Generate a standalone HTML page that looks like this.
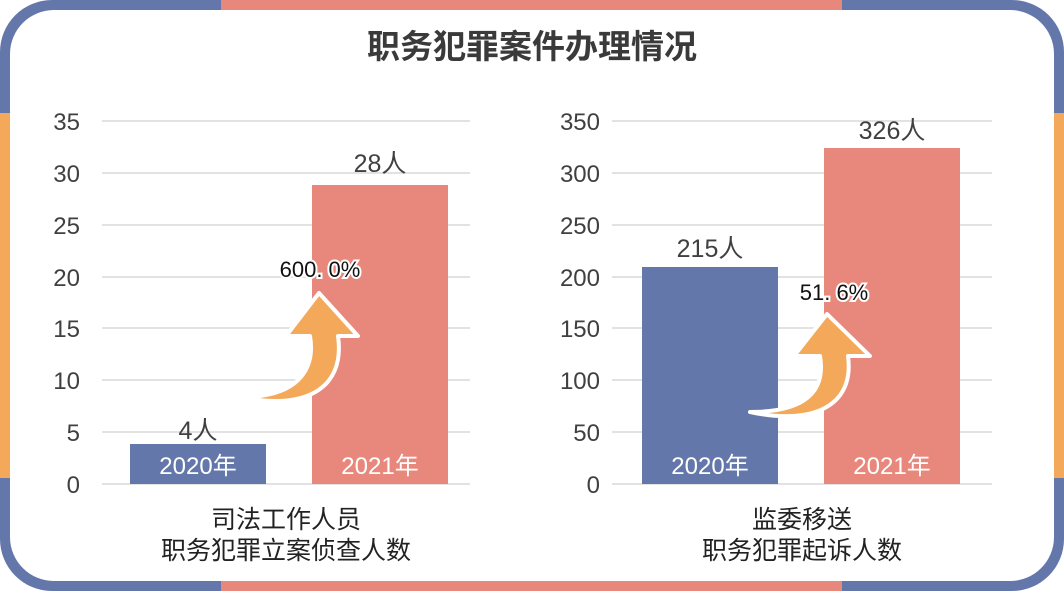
<!DOCTYPE html>
<html><head><meta charset="utf-8"><style>
body{margin:0;width:1064px;height:591px;overflow:hidden;background:#fff;font-family:"Liberation Sans","Noto Sans CJK SC",sans-serif;}
</style></head><body>
<svg width="1064" height="591" xmlns="http://www.w3.org/2000/svg" font-family="Liberation Sans, Noto Sans CJK SC, sans-serif">
<defs><clipPath id="c"><rect x="0" y="0" width="1064" height="591" rx="52"/></clipPath></defs>
<g clip-path="url(#c)">
<rect x="0" y="0" width="1064" height="591" fill="#6477ab"/>
<rect x="221" y="0" width="621" height="591" fill="#e8887c"/>
<rect x="0" y="113" width="1064" height="365" fill="#f4a95a"/>
</g>
<rect x="10" y="10" width="1044" height="571" rx="44" fill="#fff"/>
<text x="532" y="58" text-anchor="middle" font-size="33" font-weight="bold" fill="#3a3a3a">职务犯罪案件办理情况</text>
<g stroke="#d9d9d9" stroke-width="1.5">
<line x1="102" y1="121" x2="470" y2="121"/><line x1="102" y1="173" x2="470" y2="173"/><line x1="102" y1="225" x2="470" y2="225"/><line x1="102" y1="277" x2="470" y2="277"/><line x1="102" y1="328" x2="470" y2="328"/><line x1="102" y1="380" x2="470" y2="380"/><line x1="102" y1="432" x2="470" y2="432"/><line x1="102" y1="484" x2="470" y2="484"/>
<line x1="612" y1="121" x2="992" y2="121"/><line x1="612" y1="173" x2="992" y2="173"/><line x1="612" y1="225" x2="992" y2="225"/><line x1="612" y1="277" x2="992" y2="277"/><line x1="612" y1="328" x2="992" y2="328"/><line x1="612" y1="380" x2="992" y2="380"/><line x1="612" y1="432" x2="992" y2="432"/><line x1="612" y1="484" x2="992" y2="484"/>
</g>
<g font-size="24" fill="#404040" text-anchor="end">
<text x="80" y="130">35</text><text x="80" y="182">30</text><text x="80" y="234">25</text><text x="80" y="286">20</text><text x="80" y="337">15</text><text x="80" y="389">10</text><text x="80" y="441">5</text><text x="80" y="493">0</text>
<text x="600" y="130">350</text><text x="600" y="182">300</text><text x="600" y="234">250</text><text x="600" y="286">200</text><text x="600" y="337">150</text><text x="600" y="389">100</text><text x="600" y="441">50</text><text x="600" y="493">0</text>
</g>
<rect x="130" y="444" width="136" height="40" fill="#6477ab"/>
<rect x="312" y="185" width="136" height="299" fill="#e8887c"/>
<rect x="642" y="267" width="136" height="217" fill="#6477ab"/>
<rect x="824" y="148" width="136" height="336" fill="#e8887c"/>
<g font-size="24" fill="#fff" text-anchor="middle">
<text x="198" y="474">2020年</text><text x="380" y="474">2021年</text><text x="710" y="474">2020年</text><text x="892" y="474">2021年</text>
</g>
<g font-size="25" fill="#404040" text-anchor="middle">
<text x="198" y="439">4人</text><text x="380" y="172">28人</text><text x="710" y="257">215人</text><text x="892" y="139">326人</text>
</g>
<path d="M242,397 C295,397 316,372 310,336 L286,336 L319,293 L358,336 L338,336 C346,392 300,410 242,397 Z" fill="#f4a95a" stroke="#fff" stroke-width="4" stroke-linejoin="round"/>
<path d="M750,412 C805,412 826,392 820,356 L794,356 L827,314 L870,356 L848,356 C855,408 810,425 750,412 Z" fill="#f4a95a" stroke="#fff" stroke-width="4" stroke-linejoin="round"/>
<g font-size="22" fill="#111" stroke="#fff" stroke-width="4" paint-order="stroke" text-anchor="middle">
<text x="320" y="277">600. 0%</text><text x="834" y="300">51. 6%</text>
</g>
<g font-size="25" fill="#222" text-anchor="middle">
<text x="286" y="528">司法工作人员</text><text x="286" y="559">职务犯罪立案侦查人数</text>
<text x="802" y="528">监委移送</text><text x="802" y="559">职务犯罪起诉人数</text>
</g>
</svg>
</body></html>
